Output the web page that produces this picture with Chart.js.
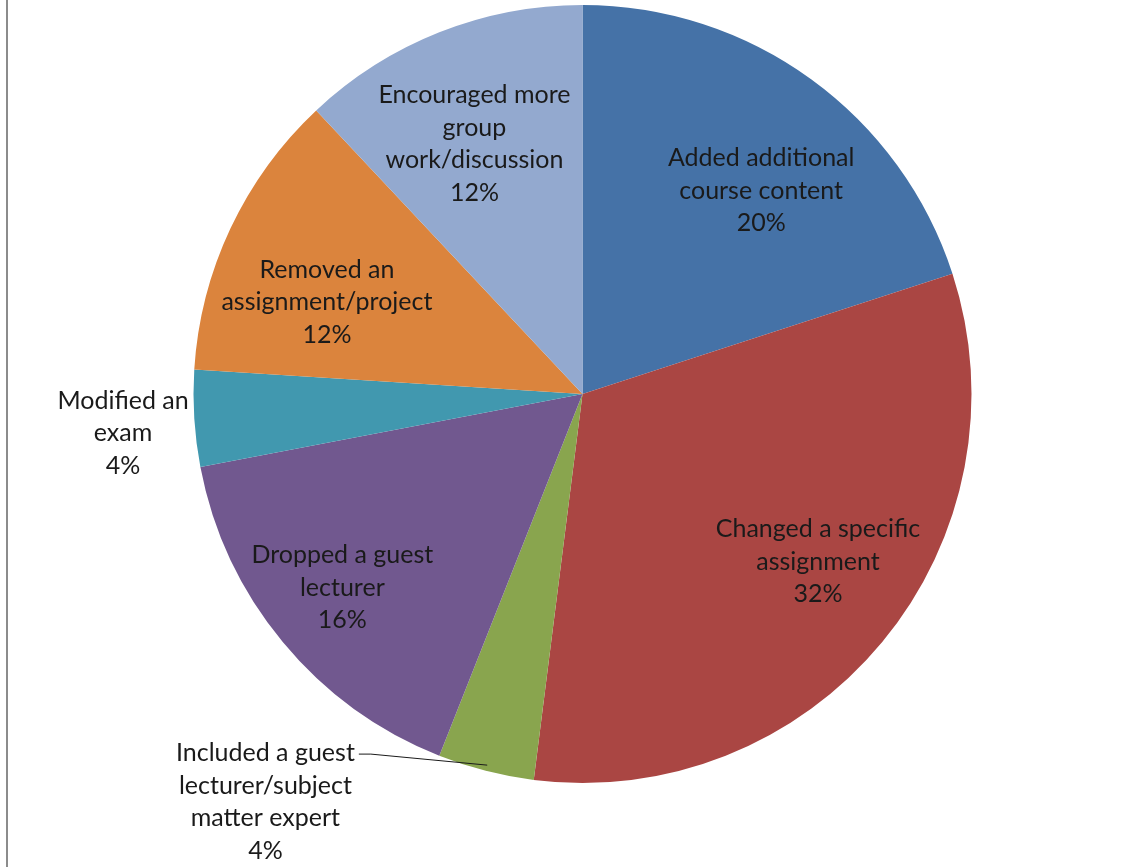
<!DOCTYPE html>
<html>
<head>
<meta charset="utf-8">
<script src="https://cdn.jsdelivr.net/npm/chart.js@4.4.1/dist/chart.umd.min.js"></script>
<style>
  html, body { margin: 0; padding: 0; background: #fff; }
  #wrap { position: relative; width: 1143px; height: 867px; }
  #borde { position: absolute; left: 6px; top: 0; width: 2px; height: 867px; background: #8c8c8c; }
  canvas { position: absolute; left: 0; top: 0; }
</style>
</head>
<body>
<div id="wrap">
  <div id="borde"></div>
  <canvas id="grafico" width="1143" height="867"></canvas>
</div>
<script>
// categorias, cada uma já quebrada em linhas como no original
const categorias = [
  ['Added additional', 'course content'],
  ['Changed a specific', 'assignment'],
  ['Included a guest', 'lecturer/subject', 'matter expert'],
  ['Dropped a guest', 'lecturer'],
  ['Modified an', 'exam'],
  ['Removed an', 'assignment/project'],
  ['Encouraged more', 'group', 'work/discussion']
];
const percentuais = [20, 32, 4, 16, 4, 12, 12];
const cores = ['#4572A7', '#AA4643', '#89A54E', '#71588F', '#4198AF', '#DB843D', '#93A9CF'];

// onde cada rótulo fica: fração do raio e desvio angular (graus) do meio da fatia
const posRotulos = [
  { r: 0.70, da: 5 },
  { r: 0.74, da: -4.5 },
  { r: 1.324, da: 23.6, linha: true },
  { r: 0.79, da: 1 },
  { r: 1.185, da: -1 },
  { r: 0.70, da: -5 },
  { r: 0.705, da: -1.6 }
];

const rotulosPlugin = {
  id: 'rotulos',
  afterDatasetsDraw(chart) {
    const c = chart.ctx;
    const arcos = chart.getDatasetMeta(0).data;
    const alturaLinha = 32.5;
    c.save();
    c.font = '25px Lato, "Open Sans", sans-serif';
    c.fillStyle = '#1a1a1a';
    c.textAlign = 'center';
    c.textBaseline = 'middle';
    arcos.forEach((arco, i) => {
      const p = arco.getProps(['x', 'y', 'startAngle', 'endAngle', 'outerRadius']);
      const meio = (p.startAngle + p.endAngle) / 2;
      const ang = meio + posRotulos[i].da * Math.PI / 180;
      const rr = p.outerRadius * posRotulos[i].r;
      const cx = p.x + Math.cos(ang) * rr;
      const cy = p.y + Math.sin(ang) * rr + 2;
      const linhas = categorias[i].concat([percentuais[i] + '%']);
      const y0 = cy - (linhas.length - 1) * alturaLinha / 2;
      linhas.forEach((t, k) => c.fillText(t, cx, y0 + k * alturaLinha));

      if (posRotulos[i].linha) {
        const w = c.measureText(linhas[0]).width;
        const lx = cx + w / 2 + 4;
        const ly = y0 + 1;
        const ex = p.x + Math.cos(meio) * p.outerRadius * 0.985;
        const ey = p.y + Math.sin(meio) * p.outerRadius * 0.985;
        c.strokeStyle = '#1a1a1a';
        c.lineWidth = 1;
        c.beginPath();
        c.moveTo(lx, ly);
        c.lineTo(lx + 12, ly);
        c.lineTo(ex, ey);
        c.stroke();
      }
    });
    c.restore();
  }
};

new Chart(document.getElementById('grafico').getContext('2d'), {
  type: 'pie',
  data: {
    labels: categorias,
    datasets: [{
      data: percentuais,
      backgroundColor: cores,
      borderWidth: 0
    }]
  },
  options: {
    responsive: false,
    animation: false,
    layout: { padding: { left: 193, right: 171, top: 5, bottom: 84 } },
    plugins: {
      legend: { display: false },
      tooltip: { enabled: false }
    }
  },
  plugins: [rotulosPlugin]
});
</script>
</body>
</html>
